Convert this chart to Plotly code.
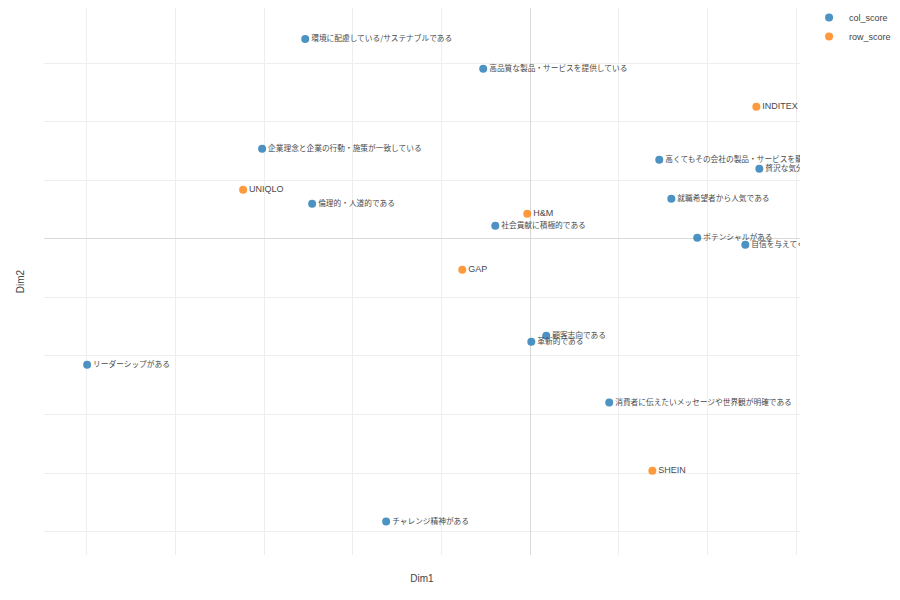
import plotly.graph_objects as go

col_labels = [
    "環境に配慮している/サステナブルである",
    "高品質な製品・サービスを提供している",
    "企業理念と企業の行動・施策が一致している",
    "高くてもその会社の製品・サービスを購入したい",
    "贅沢な気分になれる",
    "倫理的・人道的である",
    "就職希望者から人気である",
    "社会貢献に積極的である",
    "ポテンシャルがある",
    "自信を与えてくれる",
    "顧客志向である",
    "革新的である",
    "リーダーシップがある",
    "消費者に伝えたいメッセージや世界観が明確である",
    "チャレンジ精神がある",
]
col_dim1 = [-1.268, -0.265, -1.511, 0.727, 1.291, -1.229, 0.795, -0.197, 0.941, 1.212, 0.090, 0.006, -2.497, 0.445, -0.812]
col_dim2 = [1.706, 1.451, 0.768, 0.674, 0.597, 0.299, 0.341, 0.111, 0.009, -0.051, -0.828, -0.879, -1.075, -1.399, -2.415]

row_labels = ["INDITEX (ZARA)", "UNIQLO", "H&M", "GAP", "SHEIN"]
row_dim1 = [1.274, -1.618, -0.017, -0.383, 0.688]
row_dim2 = [1.126, 0.418, 0.213, -0.265, -1.980]

fig = go.Figure()
fig.add_trace(go.Scatter(
    x=col_dim1, y=col_dim2, text=col_labels, mode="markers+text",
    name="col_score", textposition="middle right",
    marker=dict(color="#1f77b4", size=8, opacity=0.8),
    textfont=dict(family="Noto Sans CJK JP", size=7.7, color="#4a4a4a"),
))
fig.add_trace(go.Scatter(
    x=row_dim1, y=row_dim2, text=row_labels, mode="markers+text",
    name="row_score", textposition="middle right",
    marker=dict(color="#ff7f0e", size=8, opacity=0.8),
    textfont=dict(family="Liberation Sans, Noto Sans CJK JP", size=9, color="#4a4a4a"),
))

fig.update_layout(
    width=884, height=584,
    margin=dict(l=36, r=92, t=0, b=37, autoexpand=False),
    paper_bgcolor="white", plot_bgcolor="white",
    font=dict(family="Liberation Sans, Noto Sans CJK JP", color="#444"),
    legend=dict(x=1.012, y=1.009, yanchor="top", xanchor="left", font=dict(size=9)),
    xaxis=dict(
        title=dict(text="Dim1", font=dict(size=10), standoff=19),
        range=[-2.74, 1.52], dtick=0.5, tick0=0,
        showticklabels=False, ticks="", automargin=False,
        showgrid=True, gridcolor="#eeeeee", gridwidth=1,
        zeroline=True, zerolinecolor="#d9d9d9", zerolinewidth=1.2,
    ),
    yaxis=dict(
        title=dict(text="Dim2", font=dict(size=10), standoff=16),
        range=[-2.70, 1.97], dtick=0.5, tick0=0,
        showticklabels=False, ticks="", automargin=False,
        showgrid=True, gridcolor="#eeeeee", gridwidth=1,
        zeroline=True, zerolinecolor="#d9d9d9", zerolinewidth=1.2,
    ),
)

fig.write_html("out.html")
